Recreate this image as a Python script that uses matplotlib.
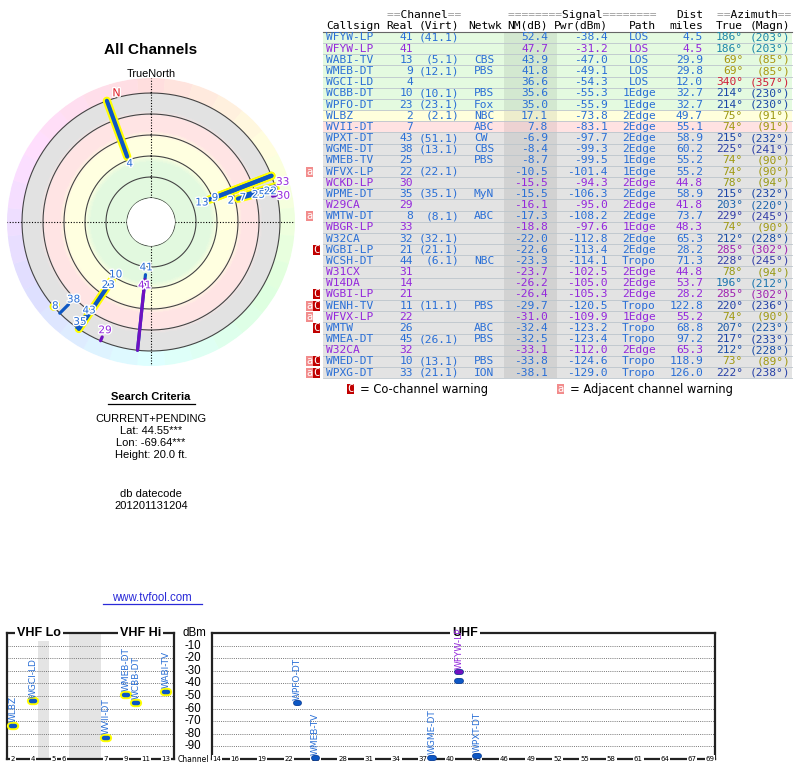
import numpy as np
import matplotlib
matplotlib.use('Agg')
import matplotlib.pyplot as plt
import matplotlib.patheffects as pe
from matplotlib.colors import LinearSegmentedColormap, hsv_to_rgb
from matplotlib.patches import Rectangle

# ---- station data ----
callsign = ['WFYW-LP', 'WFYW-LP', 'WABI-TV', 'WMEB-DT', 'WGCI-LD', 'WCBB-DT', 'WPFO-DT', 'WLBZ',
            'WVII-DT', 'WPXT-DT', 'WGME-DT', 'WMEB-TV', 'WFVX-LP', 'WCKD-LP', 'WPME-DT', 'W29CA',
            'WMTW-DT', 'WBGR-LP', 'W32CA', 'WGBI-LP', 'WCSH-DT', 'W31CX', 'W14DA', 'WGBI-LP',
            'WENH-TV', 'WFVX-LP', 'WMTW', 'WMEA-DT', 'W32CA', 'WMED-DT', 'WPXG-DT']
real_ch = [41, 41, 13, 9, 4, 10, 23, 2, 7, 43, 38, 25, 22, 30, 35, 29, 8, 33, 32, 21, 44, 31, 14, 21,
           11, 22, 26, 45, 32, 10, 33]
virt_ch = ['41.1', '', '5.1', '12.1', '', '10.1', '23.1', '2.1', '', '51.1', '13.1', '', '22.1', '',
           '35.1', '', '8.1', '', '32.1', '21.1', '6.1', '', '', '', '11.1', '', '', '26.1', '',
           '13.1', '21.1']
netwk = ['', '', 'CBS', 'PBS', '', 'PBS', 'Fox', 'NBC', 'ABC', 'CW', 'CBS', 'PBS', '', '', 'MyN', '',
         'ABC', '', '', '', 'NBC', '', '', '', 'PBS', '', 'ABC', 'PBS', '', 'PBS', 'ION']
nm_db = [52.4, 47.7, 43.9, 41.8, 36.6, 35.6, 35.0, 17.1, 7.8, -6.9, -8.4, -8.7, -10.5, -15.5, -15.5,
         -16.1, -17.3, -18.8, -22.0, -22.6, -23.3, -23.7, -26.2, -26.4, -29.7, -31.0, -32.4, -32.5,
         -33.1, -33.8, -38.1]
pwr_dbm = [-38.4, -31.2, -47.0, -49.1, -54.3, -55.3, -55.9, -73.8, -83.1, -97.7, -99.3, -99.5,
           -101.4, -94.3, -106.3, -95.0, -108.2, -97.6, -112.8, -113.4, -114.1, -102.5, -105.0,
           -105.3, -120.5, -109.9, -123.2, -123.4, -112.0, -124.6, -129.0]
path = ['LOS', 'LOS', 'LOS', 'LOS', 'LOS', '1Edge', '1Edge', '2Edge', '2Edge', '2Edge', '2Edge',
        '1Edge', '1Edge', '2Edge', '2Edge', '2Edge', '2Edge', '1Edge', '2Edge', '2Edge', 'Tropo',
        '2Edge', '2Edge', '2Edge', 'Tropo', '1Edge', 'Tropo', 'Tropo', '2Edge', 'Tropo', 'Tropo']
dist_mi = [4.5, 4.5, 29.9, 29.8, 12.0, 32.7, 32.7, 49.7, 55.1, 58.9, 60.2, 55.2, 55.2, 44.8, 58.9,
           41.8, 73.7, 48.3, 65.3, 28.2, 71.3, 44.8, 53.7, 28.2, 122.8, 55.2, 68.8, 97.2, 65.3,
           118.9, 126.0]
az_true = [186, 186, 69, 69, 340, 214, 214, 75, 74, 215, 225, 74, 74, 78, 215, 203, 229, 74, 212,
           285, 228, 78, 196, 285, 220, 74, 207, 217, 212, 73, 222]
az_magn = [203, 203, 85, 85, 357, 230, 230, 91, 91, 232, 241, 90, 90, 94, 232, 220, 245, 90, 228,
           302, 245, 94, 212, 302, 236, 90, 223, 233, 228, 89, 238]
is_analog = [0, 1, 0, 0, 0, 0, 0, 0, 0, 0, 0, 0, 0, 1, 0, 1, 0, 1, 0, 0, 0, 1, 1, 1, 0, 1, 0, 0, 1,
             0, 0]
warn = ['', '', '', '', '', '', '', '', '', '', '', '', 'a', '', '', '', 'a', '', '', 'C', '', '',
        '', 'C', 'aC', 'a', 'C', '', '', 'aC', 'aC']

criteria = ['CURRENT+PENDING', 'Lat: 44.55***', 'Lon: -69.64***', 'Height: 20.0 ft.']
datecode = '201201131204'
dbm_ticks = [-10, -20, -30, -40, -50, -60, -70, -80, -90]
vhf_ticks = [2, 4, 5, 6, 7, 9, 11, 13]
uhf_ticks = [14, 16, 19, 22, 25, 28, 31, 34, 37, 40, 43, 46, 49, 52, 55, 58, 61, 64, 67, 69]

n = len(callsign)

# ---- styles ----
DIG = '#2a6fd6'
ANA = '#9428dc'
DIG_LINE = '#0d57c4'
ANA_LINE = '#7010c0'
W, H = 800, 768
sans = 'Liberation Sans'

# nudges (pixels, right/down) so the polar channel labels don't sit on each other
label_shift = {1: (-1, 13), 3: (11, -4), 6: (-7, 10), 8: (3, 1), 11: (2, 3), 12: (12, 0),
               13: (18, -2), 14: (-4, 4), 16: (-6, 6), 17: (16, -7)}


def txt_col(i):
    return ANA if is_analog[i] else DIG


def az_col(a):
    ka = [0, 70, 135, 190, 215, 285, 340, 360]
    kc = np.array([[0.82, 0.12, 0.20], [0.66, 0.60, 0.06], [0.13, 0.62, 0.25], [0.11, 0.52, 0.70],
                   [0.10, 0.27, 0.65], [0.62, 0.13, 0.69], [0.82, 0.12, 0.22], [0.82, 0.12, 0.20]])
    return [np.interp(a, ka, kc[:, j]) for j in range(3)]


def zone_col(v):
    if v >= 25:
        return '#e4fae0'
    if v >= 10:
        return '#ffffdc'
    if v >= 0:
        return '#ffe2e2'
    return '#e3e3e3'


fig = plt.figure(figsize=(8, 7.68), dpi=100)
bg = fig.add_axes([0, 0, 1, 1])
bg.set_xlim(0, W)
bg.set_ylim(H, 0)
bg.axis('off')

# ---- left column texts ----
bg.text(151, 50, 'All Channels', ha='center', va='center', family=sans, fontsize=11, fontweight='bold')
bg.text(151, 74, 'TrueNorth', ha='center', va='center', family=sans, fontsize=7.8)
bg.text(151, 397, 'Search Criteria', ha='center', va='center', family=sans, fontsize=8, fontweight='bold')
bg.plot([108, 195], [403.5, 403.5], color='k', lw=0.9)
for k, s in enumerate(criteria):
    bg.text(151, 419 + k * 12, s, ha='center', va='center', family=sans, fontsize=8)
bg.text(151, 494, 'db datecode', ha='center', va='center', family=sans, fontsize=8)
bg.text(151, 506, datecode, ha='center', va='center', family=sans, fontsize=8)
bg.text(152, 598, 'www.tvfool.com', ha='center', va='center', family=sans, fontsize=8.3, color='#2a2ad8')
bg.plot([103, 202], [604, 604], color='#2a2ad8', lw=0.9)

# ---- polar plot ----
cx, cy, R = 151, 222, 144
axp = fig.add_axes([(cx - R) / W, 1 - (cy + R) / H, 2 * R / W, 2 * R / H], projection='polar')
axp.set_theta_zero_location('N')
axp.set_theta_direction(-1)
R_IN, R_EDGE, R_OUT = -80, 20, 34.3
axp.set_rlim(R_IN, R_OUT)
axp.set_rorigin(R_IN - 24 / 1.05)
axp.axis('off')

zone_cmap = LinearSegmentedColormap.from_list('zones', [
    (0.0, '#e2e2e2'), (0.16, '#e2e2e2'), (0.21, '#ffe4e4'), (0.35, '#ffe4e4'),
    (0.42, '#ffffe0'), (0.58, '#ffffe0'), (0.65, '#e2f9df'), (1.0, '#e2f9df')])
th = np.linspace(0, 2 * np.pi, 181)
rr = np.linspace(R_IN, R_EDGE, 101)
T, RR = np.meshgrid(th, rr)
C = np.repeat((-(rr[:-1] + rr[1:]) / 2)[:, None], len(th) - 1, axis=1)
axp.pcolormesh(T, RR, C, cmap=zone_cmap, vmin=-20, vmax=80, shading='flat',
               edgecolors='face', linewidth=0.2, zorder=1)

n_seg = 32
seg_th = np.arange(n_seg) * 2 * np.pi / n_seg
ring_cols = hsv_to_rgb(np.column_stack([seg_th / (2 * np.pi), np.full(n_seg, 0.13), np.ones(n_seg)]))
axp.bar(seg_th, R_OUT - R_EDGE, width=2 * np.pi / n_seg, bottom=R_EDGE, color=ring_cols,
        edgecolor=ring_cols, linewidth=0.3, zorder=1)

thf = np.linspace(0, 2 * np.pi, 400)
for r in [R_IN, -60, -40, -20, 0, R_EDGE]:
    axp.plot(thf, np.full_like(thf, r), color='#444444', lw=0.8, zorder=2)
for t in [0, np.pi / 2, np.pi, 3 * np.pi / 2]:
    axp.plot([t, t], [R_IN, R_OUT], color='k', lw=0.8, ls=(0, (1, 1.5)), zorder=2)

vis = [i for i in range(n) if nm_db[i] >= -20]
for i in vis:
    if real_ch[i] <= 13:
        t = np.deg2rad(az_true[i])
        axp.plot([t, t], [-nm_db[i], R_EDGE], color='#ffff00', lw=6, solid_capstyle='round', zorder=3)
for i in vis:
    t = np.deg2rad(az_true[i])
    col = ANA_LINE if is_analog[i] else DIG_LINE
    lw = 3.0 if real_ch[i] <= 13 else 2.3
    axp.plot([t, t], [-nm_db[i], R_EDGE], color=col, lw=lw, solid_capstyle='round', zorder=4)
for i in vis:
    t = np.deg2rad(az_true[i])
    dx, dy = label_shift.get(i, (0, 0))
    axp.annotate(str(real_ch[i]), xy=(t, -nm_db[i] - 7), xytext=(dx, -dy), textcoords='offset pixels',
                 color=txt_col(i), fontsize=7.5, ha='center', va='center', zorder=6,
                 path_effects=[pe.withStroke(linewidth=2, foreground='white')])
axp.text(np.deg2rad(345), 24, 'N', color='#e0202a', fontsize=8, ha='center', va='center', zorder=6,
         path_effects=[pe.withStroke(linewidth=2, foreground='white')])

# ---- table ----
row_y0, row_h = 37.5, 11.17
x_l, x_r = 323, 792
mono = dict(family='DejaVu Sans Mono', fontsize=8.1, va='center')
gray_eq = '#9a9a9a'
bg.text(387, 14.5, '==       ==', color=gray_eq, ha='left', **mono)
bg.text(387, 14.5, '  Channel  ', color='k', ha='left', **mono)
bg.text(508, 14.5, '========      ========', color=gray_eq, ha='left', **mono)
bg.text(508, 14.5, '        Signal        ', color='k', ha='left', **mono)
bg.text(703, 14.5, 'Dist', color='k', ha='right', **mono)
bg.text(717, 14.5, '==       ==', color=gray_eq, ha='left', **mono)
bg.text(717, 14.5, '  Azimuth  ', color='k', ha='left', **mono)
hy = 26
bg.text(326, hy, 'Callsign', ha='left', **mono)
bg.text(413, hy, 'Real', ha='right', **mono)
bg.text(459, hy, '(Virt)', ha='right', **mono)
bg.text(468, hy, 'Netwk', ha='left', **mono)
bg.text(548, hy, 'NM(dB)', ha='right', **mono)
bg.text(608, hy, 'Pwr(dBm)', ha='right', **mono)
bg.text(642, hy, 'Path', ha='center', **mono)
bg.text(703, hy, 'miles', ha='right', **mono)
bg.text(743, hy, 'True', ha='right', **mono)
bg.text(790, hy, '(Magn)', ha='right', **mono)
bg.plot([x_l, x_r], [row_y0 - row_h / 2, row_y0 - row_h / 2], color='#666666', lw=0.8)

for i in range(n):
    y = row_y0 + i * row_h
    bg.add_patch(Rectangle((x_l, y - row_h / 2), x_r - x_l, row_h, fc=zone_col(nm_db[i]), ec='none', zorder=0))
    bg.plot([x_l, x_r], [y + row_h / 2] * 2, color='#bcc5cc', lw=0.6, zorder=1)
    c = txt_col(i)
    bg.text(326, y, callsign[i], ha='left', color=c, **mono)
    bg.text(413, y, str(real_ch[i]), ha='right', color=c, **mono)
    if virt_ch[i]:
        bg.text(459, y, '(%s)' % virt_ch[i], ha='right', color=c, **mono)
    if netwk[i]:
        bg.text(474, y, netwk[i], ha='left', color=c, **mono)
    bg.text(548, y, '%.1f' % nm_db[i], ha='right', color=c, **mono)
    bg.text(608, y, '%.1f' % pwr_dbm[i], ha='right', color=c, **mono)
    bg.text(639, y, path[i], ha='center', color=c, **mono)
    bg.text(703, y, '%.1f' % dist_mi[i], ha='right', color=c, **mono)
    ac = az_col(az_true[i])
    bg.text(743, y, '%d\u00b0' % az_true[i], ha='right', color=ac, **mono)
    bg.text(790, y, '(%d\u00b0)' % az_magn[i], ha='right', color=ac, **mono)
    if 'a' in warn[i]:
        bg.add_patch(Rectangle((306, y - 5), 7, 10, fc='#f28c8c', ec='none'))
        bg.text(309.5, y, 'a', ha='center', color='white', family='DejaVu Sans Mono', fontsize=7.5, va='center')
    if 'C' in warn[i]:
        bg.add_patch(Rectangle((313, y - 5), 7, 10, fc='#c00000', ec='none'))
        bg.text(316.5, y, 'C', ha='center', color='white', family='DejaVu Sans Mono', fontsize=7.5, va='center')
bg.add_patch(Rectangle((504, row_y0 - row_h / 2), 53, n * row_h, fc='k', alpha=0.07, ec='none', zorder=0.5))

ly = 389
bg.add_patch(Rectangle((347, ly - 5), 7, 10, fc='#c00000', ec='none'))
bg.text(350.5, ly, 'C', ha='center', color='white', family='DejaVu Sans Mono', fontsize=7.5, va='center')
bg.text(360, ly, '= Co-channel warning', ha='left', va='center', fontsize=8.3)
bg.add_patch(Rectangle((557, ly - 5), 7, 10, fc='#f28c8c', ec='none'))
bg.text(560.5, ly, 'a', ha='center', color='white', family='DejaVu Sans Mono', fontsize=7.5, va='center')
bg.text(570, ly, '= Adjacent channel warning', ha='left', va='center', fontsize=8.3)

# ---- spectrum panels ----
top, bot = 633, 759
VK_CH = [0.5, 4.5, 4.5001, 6.5, 6.5001, 14.5]
VK_PX = [-2, 38, 49, 69, 101, 181]


def vhf_fwd(c):
    return np.interp(c, VK_CH, VK_PX)


def vhf_inv(p):
    return np.interp(p, VK_PX, VK_CH)


axv = fig.add_axes([7 / W, 1 - bot / H, 167 / W, (bot - top) / H])
axv.set_xscale('function', functions=(vhf_fwd, vhf_inv))
axv.set_xlim(vhf_inv(7), vhf_inv(174))
axu = fig.add_axes([212 / W, 1 - bot / H, 503 / W, (bot - top) / H])
axu.set_xlim(13.44, 69.56)

axv.axvspan(4.5, 4.5001, color='#e4e4e4', lw=0, zorder=0)
axv.axvspan(6.5, 6.5001, color='#e4e4e4', lw=0, zorder=0)

for ax, ticks, band in [(axv, vhf_ticks, 'vhf'), (axu, uhf_ticks, 'uhf')]:
    ax.set_ylim(-100, 0)
    ax.set_xticks([])
    ax.set_yticks([])
    ax.minorticks_off()
    for s in ax.spines.values():
        s.set_linewidth(1.6)
        s.set_color('#222222')
    for g in dbm_ticks:
        ax.axhline(g, color='#777777', lw=0.7, ls=(0, (1, 1.2)), zorder=1)
    for tk in ticks:
        ax.text(tk, -100, str(tk), ha='center', va='center', fontsize=5, clip_on=False, zorder=5,
                bbox=dict(fc='white', ec='none', pad=0.6))

    shown = [i for i in range(n) if pwr_dbm[i] >= -100 and (nm_db[i] > 0 or not is_analog[i])
             and ((real_ch[i] <= 13) == (band == 'vhf'))]
    for i in shown:
        ch, p = real_ch[i], pwr_dbm[i]
        col = ANA_LINE if is_analog[i] else DIG_LINE
        if band == 'vhf':
            eff = [pe.Stroke(linewidth=6, foreground='#ffff00'), pe.Normal()]
            half = 0.18
        else:
            eff = [pe.Stroke(linewidth=4.2, foreground='#0a3a90'), pe.Normal()]
            half = 0.2
        ax.plot([ch - half, ch + half], [p, p], color=col, lw=3.2, solid_capstyle='round',
                zorder=6, clip_on=False, path_effects=eff)
        best = max(pwr_dbm[j] for j in shown if real_ch[j] == ch)
        if p == best:
            ax.text(ch, p + 3, callsign[i], rotation=90, ha='center', va='bottom', fontsize=6.5,
                    color=txt_col(i), zorder=7, clip_on=False)

axv.text(0.19, 1.0, 'VHF Lo', transform=axv.transAxes, ha='center', va='center', family=sans,
         fontsize=9, fontweight='bold', zorder=5, bbox=dict(fc='white', ec='none', pad=1.5))
axv.text(0.80, 1.0, 'VHF Hi', transform=axv.transAxes, ha='center', va='center', family=sans,
         fontsize=9, fontweight='bold', zorder=5, bbox=dict(fc='white', ec='none', pad=1.5))
axu.text(0.503, 1.0, 'UHF', transform=axu.transAxes, ha='center', va='center', family=sans,
         fontsize=9, fontweight='bold', zorder=5, bbox=dict(fc='white', ec='none', pad=1.5))

bg.text(194, top, 'dBm', ha='center', va='center', family=sans, fontsize=8.3)
for g in dbm_ticks:
    bg.text(193, top + (-g / 100) * (bot - top), str(g), ha='center', va='center', family=sans, fontsize=8.3)
bg.text(193, bot, 'Channel', ha='center', va='center', fontsize=5.5)

fig.savefig('out.png', dpi=100)
